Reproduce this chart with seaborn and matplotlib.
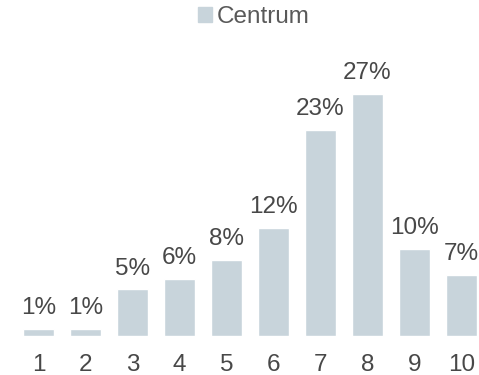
import matplotlib
matplotlib.use("Agg")
import matplotlib.pyplot as plt
import matplotlib.patches as mpatches
import pandas as pd
import seaborn as sns

# data
scores = ["1", "2", "3", "4", "5", "6", "7", "8", "9", "10"]
shares = [0.8, 0.8, 5.2, 6.4, 8.5, 12.1, 23.0, 27.0, 9.7, 6.8]
share_labels = ["1%", "1%", "5%", "6%", "8%", "12%", "23%", "27%", "10%", "7%"]
series_name = "Centrum"

bar_color = "#C8D4DB"
text_color = "#484848"
fs = 17.5

df = pd.DataFrame({"score": scores, "share": shares, "series": series_name})

sns.set_style("white")
plt.rcParams['font.family'] = ['Liberation Sans', 'DejaVu Sans']

W, H = 479, 375
fig = plt.figure(figsize=(W / 100, H / 100), dpi=100)
# axes placed in pixel terms: baseline at y=336, 27% at y=94
ax = fig.add_axes([23 / W, (H - 336) / H, 454 / W, 242 / H])

sns.barplot(data=df, x="score", y="share", hue="series",
            palette={series_name: bar_color}, width=0.66,
            saturation=1, legend=False, ax=ax)

ax.set_xlim(-0.33, 9.33)
ax.set_ylim(0, 27)
ax.bar_label(ax.containers[0], labels=share_labels, padding=7,
             fontsize=fs, color=text_color)

for s in ax.spines.values():
    s.set_visible(False)
ax.set_yticks([])
ax.set_xlabel("")
ax.set_ylabel("")
ax.tick_params(axis="x", length=0, pad=13, labelsize=fs, labelcolor=text_color)

# legend
patch = mpatches.Patch(color=bar_color, label=series_name)
fig.legend(handles=[patch], loc="upper center", bbox_to_anchor=(0.53, 1.022),
           frameon=False, fontsize=fs, labelcolor="#595959",
           handlelength=0.55, handleheight=0.55, handletextpad=0.2,
           borderaxespad=0.2)

fig.savefig("out.png", dpi=100)
